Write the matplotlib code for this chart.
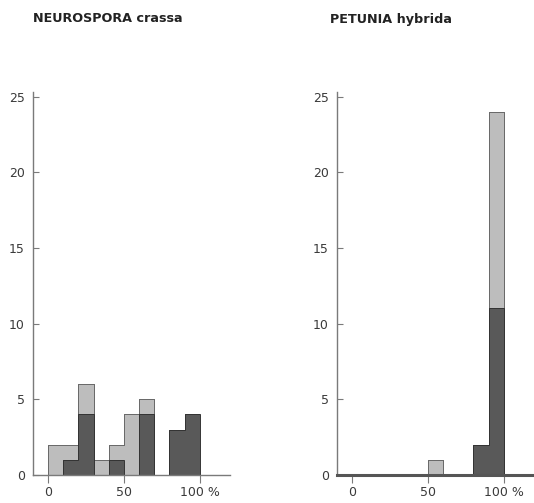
import numpy as np
import matplotlib.pyplot as plt

# 区间边界 (%)
edges = [0, 10, 20, 30, 40, 50, 60, 70, 80, 90, 100]

# NEUROSPORA crassa
neuro_light = [2, 2, 6, 1, 2, 4, 5, 0, 0, 0]
neuro_dark = [0, 1, 4, 0, 1, 0, 4, 0, 3, 4]

# PETUNIA hybrida
petunia_light = [0, 0, 0, 0, 0, 1, 0, 0, 0, 24]
petunia_dark = [0, 0, 0, 0, 0, 0, 0, 0, 2, 11]

titles = ['NEUROSPORA crassa', 'PETUNIA hybrida']
yticks = [0, 5, 10, 15, 20, 25]
xticks = [0, 50, 100]
xticklabels = ['0', '50', '100 %']

light_color = '#bdbdbd'
dark_color = '#595959'
spine_color = '#7a7a7a'
text_color = '#3a3a3a'

W, H = 534, 503
fig = plt.figure(figsize=(W / 100, H / 100), dpi=100)

# 坐标轴位置 (像素)
ax_pos = [(33, 230), (337, 534)]
y_bottom, y_top = 475, 92

panels = [(neuro_light, neuro_dark), (petunia_light, petunia_dark)]
title_x = [33, 330]

for i, (light, dark) in enumerate(panels):
    x0, x1 = ax_pos[i]
    ax = fig.add_axes([x0 / W, (H - y_bottom) / H, (x1 - x0) / W, (y_bottom - y_top) / H])

    # 阶梯直方图：浅色在后，深色在前
    ax.stairs(light, edges, fill=True, facecolor=light_color, edgecolor='#6a6a6a',
              linewidth=0.7, zorder=2)
    ax.stairs(light, edges, color='#6a6a6a', linewidth=0.7, zorder=2)
    ax.stairs(dark, edges, fill=True, facecolor=dark_color, zorder=3)
    ax.stairs(dark, edges, color='#333333', linewidth=0.7, zorder=3)

    ax.set_xlim(-10, 120)
    ax.set_ylim(0, 25.3)
    ax.set_yticks(yticks)
    ax.set_xticks(xticks)
    ax.set_xticklabels(xticklabels)

    for s in ['top', 'right']:
        ax.spines[s].set_visible(False)
    ax.spines['left'].set_color(spine_color)
    ax.spines['bottom'].set_color(spine_color)
    ax.spines['left'].set_linewidth(1.0)
    ax.spines['bottom'].set_linewidth(1.0 if i == 0 else 2.2)
    ax.spines['bottom'].set_zorder(4)
    if i == 1:
        ax.spines['bottom'].set_color('#555555')

    ax.tick_params(axis='y', direction='in', length=4, width=0.8, color=spine_color,
                   labelsize=9, labelcolor=text_color, pad=6)
    ax.tick_params(axis='x', direction='out', length=6, width=0.8, color=spine_color,
                   labelsize=9, labelcolor=text_color, pad=2)
    ax.patch.set_alpha(0)

    fig.text(title_x[i] / W, 1 - 19 / H, titles[i], fontsize=9.2, fontweight='bold',
             color='#222222', ha='left', va='center')

plt.savefig('out.png', dpi=100)
